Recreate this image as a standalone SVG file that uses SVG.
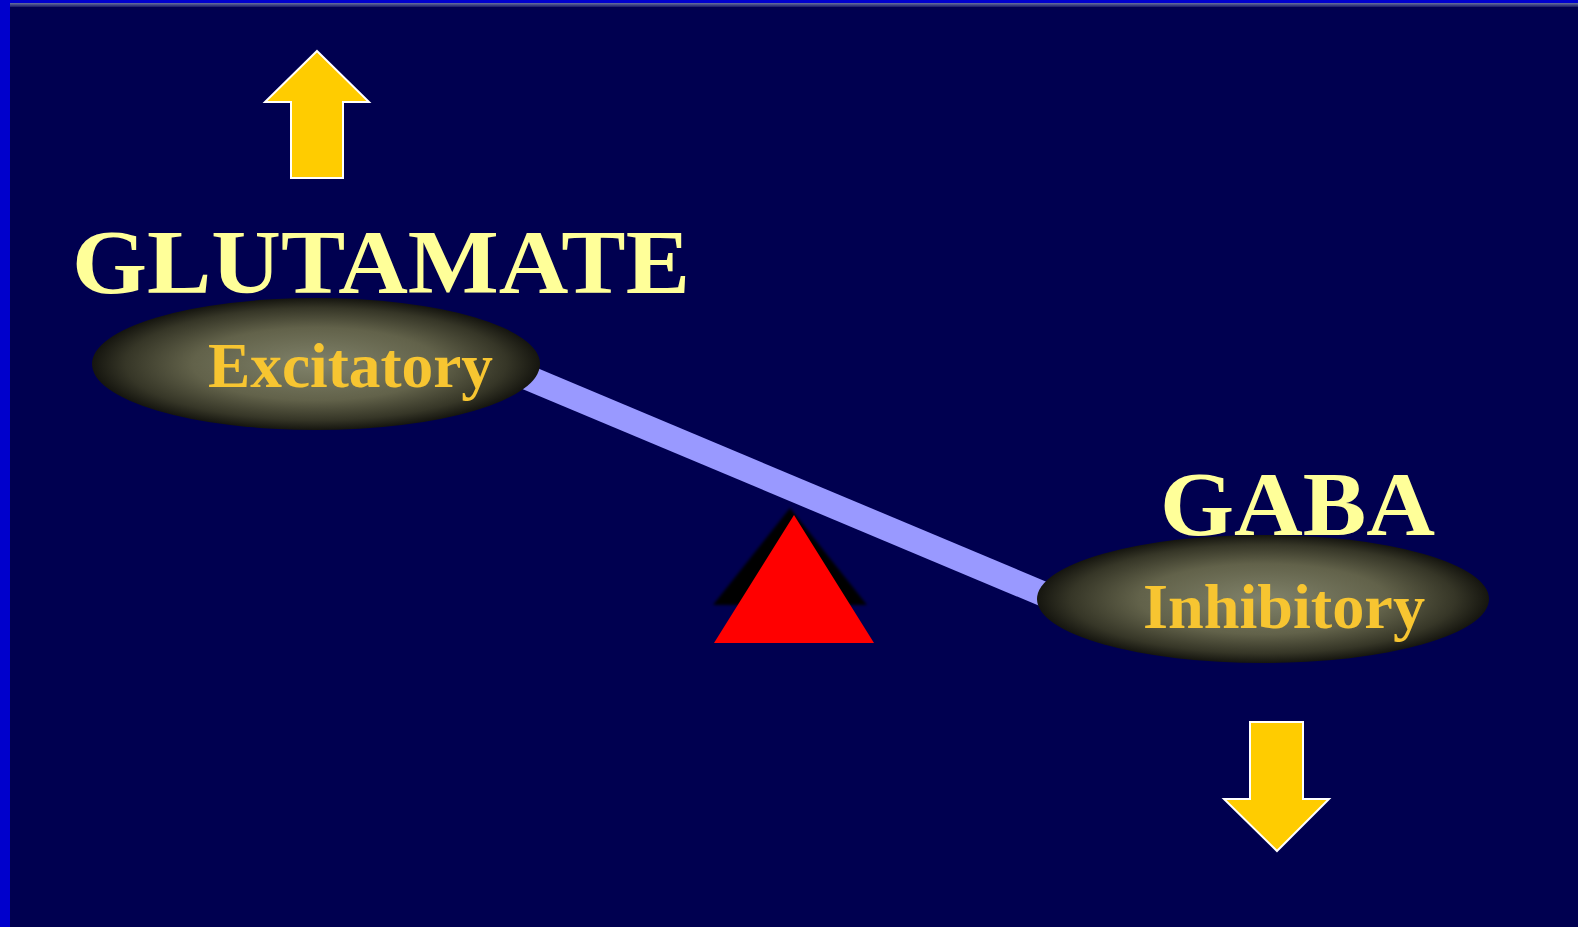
<svg xmlns="http://www.w3.org/2000/svg" width="1578" height="927" viewBox="0 0 1578 927">
<style>
.title{font-family:"Liberation Serif","Times New Roman",serif;font-weight:bold;fill:#FFFF99;font-size:90px}
.sub{font-family:"Liberation Serif","Times New Roman",serif;font-weight:bold;fill:#F7C531;font-size:64px}
.arrow{fill:#FFCC00;stroke:#FFFFFF;stroke-width:2}
</style>
<defs>
<radialGradient id="pad" cx="0.5" cy="0.5" r="0.5">
<stop offset="0" stop-color="#80826A"/>
<stop offset="0.55" stop-color="#62624A"/>
<stop offset="0.85" stop-color="#363627"/>
<stop offset="1" stop-color="#15150F"/>
</radialGradient>
<linearGradient id="strip" x1="0" y1="0" x2="0" y2="1">
<stop offset="0" stop-color="#6670A0"/>
<stop offset="1" stop-color="#1A1A66"/>
</linearGradient>
<filter id="blur" x="-20%" y="-20%" width="140%" height="140%"><feGaussianBlur stdDeviation="1.5"/></filter>
</defs>
<rect x="0" y="0" width="1578" height="927" fill="#000050"/>
<rect x="0" y="3" width="1578" height="4" fill="url(#strip)"/>
<rect x="0" y="0" width="1578" height="3" fill="#0000CC"/>
<rect x="0" y="0" width="10" height="927" fill="#0000CC"/>

<g id="connectors">
<line x1="500" y1="366" x2="1060" y2="601" stroke="#9999FF" stroke-width="25"/>
</g>

<g id="fulcrum">
<polygon points="790,508 713,605 867,605" fill="#000000" filter="url(#blur)"/>
<polygon points="794,515 714,643 874,643" fill="#FF0000"/>
</g>

<g id="glutamate">
<path class="arrow" d="M317,51 L369,102 L343,102 L343,178 L291,178 L291,102 L265,102 Z"/>
<text class="title" x="72" y="293" textLength="618" lengthAdjust="spacingAndGlyphs">GLUTAMATE</text>
<ellipse cx="316" cy="364" rx="224" ry="66" fill="url(#pad)"/>
<text class="sub" x="208" y="387" textLength="285" lengthAdjust="spacingAndGlyphs">Excitatory</text>
</g>

<g id="gaba">
<text class="title" x="1160" y="535" textLength="275" lengthAdjust="spacingAndGlyphs">GABA</text>
<ellipse cx="1263" cy="599" rx="226" ry="64" fill="url(#pad)"/>
<text class="sub" x="1143" y="628" textLength="282" lengthAdjust="spacingAndGlyphs">Inhibitory</text>
<path class="arrow" d="M1277,851 L1329,799 L1303,799 L1303,722 L1250,722 L1250,799 L1224,799 Z"/>
</g>
</svg>
